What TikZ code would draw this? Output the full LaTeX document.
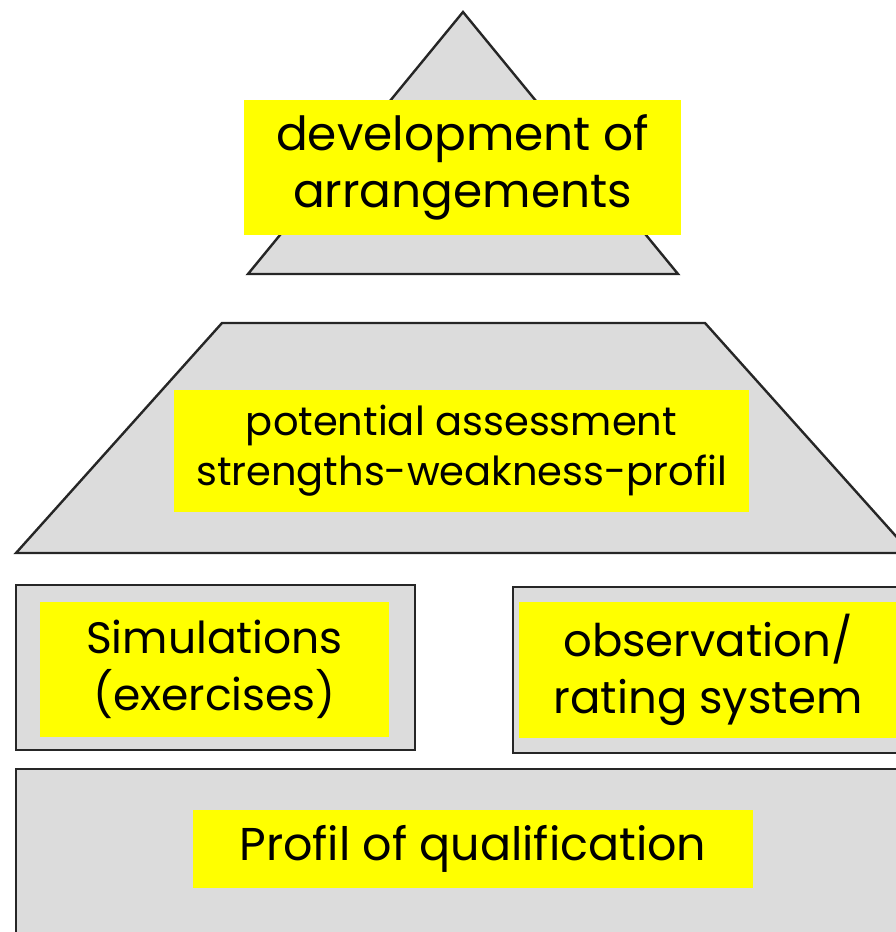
\documentclass[tikz,border=0pt]{standalone}
\usepackage{fontspec}
\setmainfont{Poppins}
\begin{document}
\begin{tikzpicture}[x=1pt,y=-1pt,
  shapebox/.style={fill=shapegray,draw=black!85,line width=2.4pt,line join=miter},
  ylabel/.style={fill=pureyellow,inner sep=0pt,align=center,text=black}]
\definecolor{shapegray}{HTML}{DCDCDC}
\definecolor{pureyellow}{HTML}{FFFF00}
\useasboundingbox (0,0) rectangle (896,932);
\clip (0,0) rectangle (896,932);
% triangle
\draw[shapebox] (463,12) -- (678,274) -- (248,274) -- cycle;
% trapezoid
\draw[shapebox] (222,323) -- (705,323) -- (911,553) -- (16,553) -- cycle;
% left box
\draw[shapebox] (16,585) rectangle (415,750);
% right box
\draw[shapebox] (513,587) rectangle (910,753);
% bottom box
\draw[shapebox] (16,769) rectangle (910,950);
% labels
\node[ylabel,minimum width=437pt,minimum height=135pt,font=\fontsize{47}{57}\selectfont] (dev) at (462.5,167) {development of\\arrangements};
\node[ylabel,minimum width=575pt,minimum height=122pt,font=\fontsize{40}{50}\selectfont] (pot) at (461.5,451) {potential assessment\\strengths-weakness-profil};
\node[ylabel,minimum width=349pt,minimum height=135pt,font=\fontsize{44}{57}\selectfont] (sim) at (214.5,669) {Simulations\\(exercises)};
\node[ylabel,minimum width=378pt,minimum height=136pt,font=\fontsize{45}{57}\selectfont] (obs) at (708,670) {observation/\\rating system};
\node[ylabel,minimum width=560pt,minimum height=78pt,font=\fontsize{46}{57}\selectfont] (prof) at (473,849) {Profil of qualification};
\end{tikzpicture}
\end{document}
